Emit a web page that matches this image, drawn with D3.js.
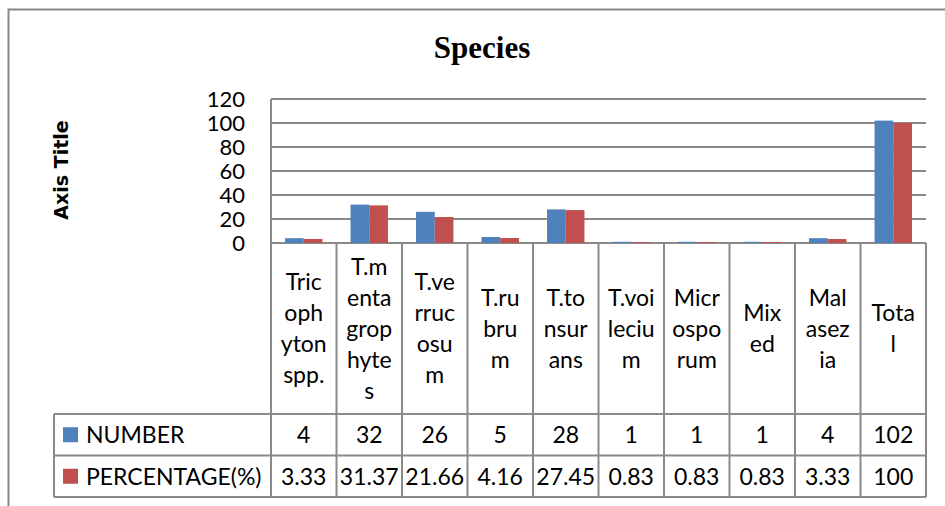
<!DOCTYPE html>
<html lang="en">
<head>
    <meta charset="UTF-8">
    <title>Species</title>
    <script src="https://d3js.org/d3.v7.min.js"></script>
</head>
<style>
    body {
        margin: 0;
        padding: 0;
        background: #fff;
    }
    svg {
        display: block;
    }
    .lbl {
        font-family: Lato, sans-serif;
        font-size: 23px;
        fill: #000;
    }
</style>
<body>
<div class="chart"></div>
<script>
  /** DATA **/
  var categories = ['Tricophyton spp.', 'T.mentagrophytes', 'T.verrucosum', 'T.rubrum', 'T.tonsurans',
    'T.voilecium', 'Microsporum', 'Mixed', 'Malasezia', 'Total'];
  // category labels as they wrap inside the data table
  var categoryLines = [
    ['Tric', 'oph', 'yton', 'spp.'],
    ['T.m', 'enta', 'grop', 'hyte', 's'],
    ['T.ve', 'rruc', 'osu', 'm'],
    ['T.ru', 'bru', 'm'],
    ['T.to', 'nsur', 'ans'],
    ['T.voi', 'leciu', 'm'],
    ['Micr', 'ospo', 'rum'],
    ['Mix', 'ed'],
    ['Mal', 'asez', 'ia'],
    ['Tota', 'l']
  ];
  var seriesNames = ['NUMBER', 'PERCENTAGE(%)'];
  var seriesColors = ['#4f81bd', '#c0504d'];
  var numberValues = [4, 32, 26, 5, 28, 1, 1, 1, 4, 102];
  var percentValues = [3.33, 31.37, 21.66, 4.16, 27.45, 0.83, 0.83, 0.83, 3.33, 100];
  var percentLabels = ['3.33', '31.37', '21.66', '4.16', '27.45', '0.83', '0.83', '0.83', '3.33', '100'];
  var yTicks = [0, 20, 40, 60, 80, 100, 120];

  var seriesValues = [numberValues, percentValues];
  var seriesLabels = [numberValues.map(String), percentLabels];

  /** LAYOUT **/
  var width = 945, height = 506;
  var plotLeft = 271, plotRight = 926, plotTop = 99, plotBottom = 243;
  var tableLeft = 54;
  var catRowBottom = 414;
  var rowHeight = 41.5;
  var lineGray = '#8a8a8a';

  var svg = d3.select('.chart').append('svg')
    .attr('width', width)
    .attr('height', height);

  /** outer chart border (top and left only visible) */
  svg.append('path')
    .attr('d', 'M8.5,506 L8.5,9.5 L945,9.5')
    .attr('fill', 'none')
    .attr('stroke', '#888')
    .attr('stroke-width', 2);

  /** title */
  svg.append('text')
    .attr('x', 482)
    .attr('y', 58)
    .attr('text-anchor', 'middle')
    .style('font-family', '"Liberation Serif", serif')
    .style('font-weight', 'bold')
    .style('font-size', '31px')
    .text('Species');

  /** axis title */
  svg.append('text')
    .attr('transform', 'translate(68,170) rotate(-90)')
    .attr('text-anchor', 'middle')
    .style('font-family', '"DejaVu Sans", sans-serif')
    .style('font-weight', 'bold')
    .style('font-size', '19px')
    .text('Axis Title');

  /** SCALES **/
  var x0 = d3.scaleBand()
    .domain(categories)
    .range([plotLeft, plotRight])
    .padding(0);

  var x1 = d3.scaleBand()
    .domain(seriesNames)
    .range([0, x0.bandwidth()])
    .paddingInner(0)
    .paddingOuter(0.75);

  var y = d3.scaleLinear()
    .domain([0, 120])
    .range([plotBottom, plotTop]);

  /** gridlines */
  svg.append('g')
    .selectAll('line')
    .data(yTicks)
    .enter().append('line')
    .attr('x1', plotLeft)
    .attr('x2', plotRight)
    .attr('y1', function (d) { return y(d); })
    .attr('y2', function (d) { return y(d); })
    .attr('stroke', lineGray)
    .attr('stroke-width', 2);

  /** y axis labels */
  var yAxis = svg.append('g')
    .attr('transform', 'translate(' + plotLeft + ',0)')
    .call(d3.axisLeft(y).tickValues(yTicks).tickSize(0).tickPadding(26));
  yAxis.select('.domain').remove();
  yAxis.selectAll('text')
    .attr('class', 'lbl')
    .attr('dy', '0.36em')
    .style('font-size', '22px')
    .style('font-family', 'Lato, sans-serif');

  /** bars */
  var groups = svg.append('g')
    .selectAll('g')
    .data(categories)
    .enter().append('g')
    .attr('transform', function (d) { return 'translate(' + x0(d) + ',0)'; });

  groups.selectAll('rect')
    .data(function (d, i) {
      return seriesNames.map(function (s, k) {
        return { series: s, value: seriesValues[k][i], color: seriesColors[k] };
      });
    })
    .enter().append('rect')
    .attr('x', function (d) { return x1(d.series); })
    .attr('width', x1.bandwidth())
    .attr('y', function (d) { return y(d.value); })
    .attr('height', function (d) { return y(0) - y(d.value); })
    .attr('fill', function (d) { return d.color; });

  /** DATA TABLE **/
  var table = svg.append('g')
    .attr('fill', 'none')
    .attr('stroke', lineGray)
    .attr('stroke-width', 2);

  var rowLines = [catRowBottom, catRowBottom + rowHeight, catRowBottom + 2 * rowHeight];
  table.selectAll('line.h')
    .data(rowLines)
    .enter().append('line')
    .attr('x1', tableLeft)
    .attr('x2', plotRight)
    .attr('y1', function (d) { return d; })
    .attr('y2', function (d) { return d; });

  var colLines = categories.map(function (c) { return x0(c); }).concat([plotRight]);
  table.selectAll('line.v')
    .data(colLines)
    .enter().append('line')
    .attr('x1', function (d) { return d; })
    .attr('x2', function (d) { return d; })
    .attr('y1', function (d, i) { return i === 0 ? plotTop : plotBottom; })
    .attr('y2', rowLines[2]);

  table.append('line')
    .attr('x1', tableLeft).attr('x2', tableLeft)
    .attr('y1', rowLines[0]).attr('y2', rowLines[2]);

  /** category labels (wrapped) */
  var lineHeight = 31;
  var catCenter = (plotBottom + catRowBottom) / 2;
  svg.append('g')
    .selectAll('text')
    .data(categories)
    .enter().append('text')
    .attr('class', 'lbl')
    .attr('text-anchor', 'middle')
    .each(function (d, i) {
      var lines = categoryLines[i];
      var startY = catCenter - (lines.length - 1) * lineHeight / 2;
      var t = d3.select(this);
      lines.forEach(function (ln, j) {
        t.append('tspan')
          .attr('x', x0(d) + x0.bandwidth() / 2)
          .attr('y', startY + j * lineHeight)
          .attr('dy', '0.36em')
          .text(ln);
      });
    });

  /** series rows: legend key + values */
  seriesNames.forEach(function (s, k) {
    var rowMid = catRowBottom + rowHeight * k + rowHeight / 2;
    svg.append('rect')
      .attr('x', 63)
      .attr('y', rowMid - 7.5)
      .attr('width', 15)
      .attr('height', 15)
      .attr('fill', seriesColors[k]);
    svg.append('text')
      .attr('class', 'lbl')
      .attr('x', 86)
      .attr('y', rowMid)
      .attr('dy', '0.36em')
      .text(s);
    svg.append('g')
      .selectAll('text')
      .data(categories)
      .enter().append('text')
      .attr('class', 'lbl')
      .attr('text-anchor', 'middle')
      .attr('x', function (d) { return x0(d) + x0.bandwidth() / 2; })
      .attr('y', rowMid)
      .attr('dy', '0.36em')
      .text(function (d, i) { return seriesLabels[k][i]; });
  });
</script>
</body>
</html>
